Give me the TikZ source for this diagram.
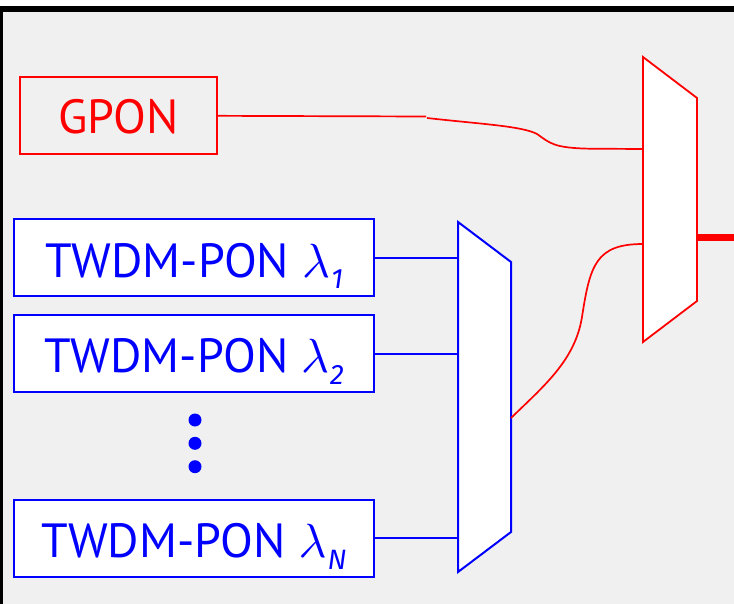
\documentclass[tikz,border=0pt]{standalone}
\usepackage{graphicx}
\usepackage{fontspec}
\setmainfont{PT Sans}
\newfontfamily\lamfont{Fira Sans}
\definecolor{panel}{HTML}{F0F0F0}
\definecolor{pblue}{HTML}{0000FF}
\definecolor{pred}{HTML}{FF0000}
% wavelength label: italic lambda with a lowered italic index
\newcommand{\wl}[1]{\scalebox{4.8}{\fontsize{10}{12}\selectfont$\lambda$}\kern1pt\raisebox{-12pt}{\fontsize{28}{28}\selectfont\lamfont\itshape #1}}
\tikzset{
  twbox/.style={draw=pblue, line width=2pt, fill=white, text=pblue, inner sep=0pt,
    minimum width=360pt, minimum height=77pt, text height=57.5pt, text depth=19.5pt,
    font=\fontsize{48}{48}\selectfont},
  gbox/.style={draw=pred, line width=1.6pt, text=pred, inner sep=0pt,
    minimum width=197pt, minimum height=77pt, text height=56.3pt, text depth=20.7pt,
    font=\fontsize{48}{48}\selectfont},
  bwire/.style={draw=pblue, line width=2pt},
  rwire/.style={draw=pred, line width=1.7pt},
  muxb/.style={draw=pblue, line width=2pt, fill=white, line join=miter},
  muxr/.style={draw=pred, line width=1.8pt, fill=white, line join=miter},
  vdot/.style={circle, fill=pblue, inner sep=0pt, minimum size=13pt},
}
\begin{document}
\begin{tikzpicture}[x=1pt, y=-1pt]
\useasboundingbox (0,0) rectangle (734,604);
\clip (0,0) rectangle (734,604);
% page and framed panel
\fill[white] (0,0) rectangle (734,604);
\filldraw[fill=panel, draw=black, line width=6pt] (0,9) rectangle (760,630);

% sources
\node[gbox] (gpon) at (118.5,115.5) {GPON};
\node[twbox] (tw1) at (194,258) {TWDM-PON \wl{1}};
\node[twbox] (tw2) at (194,353.5) {TWDM-PON \wl{2}};
\node[twbox] (twn) at (194,538) {TWDM-PON \wl{N}};
\node[vdot] (d1) at (195,420) {};
\node[vdot] (d2) at (195,443.3) {};
\node[vdot] (d3) at (195,466.7) {};

% wavelength multiplexer for the TWDM channels
\draw[muxb] (458,222) -- (511,262) -- (511,532) -- (458,572) -- cycle;
\coordinate (bmin) at (458,0);
\coordinate (bmout) at (511,418);

% combiner for GPON and TWDM
\draw[muxr] (643,57) -- (697,98) -- (697,301) -- (643,342) -- cycle;
\coordinate (rmin) at (643,0);
\coordinate (rmtwdm) at (643,244);
\coordinate (rmout) at (697,238);
\coordinate (feeder) at (740,238);

% TWDM channels into the multiplexer
\draw[bwire] (tw1) -- (tw1 -| bmin);
\draw[bwire] (tw2) -- (tw2 -| bmin);
\draw[bwire] (twn) -- (twn -| bmin);

% GPON fibre to the combiner
\coordinate (gbrk) at (426,116.5);
\coordinate (gres) at (427,118);
\coordinate (gend) at (643,149);
\draw[rwire] (gpon) -- (gbrk);
\draw[rwire] (gres) .. controls (480,124) and (522,126) .. (537,134)
  .. controls (550,143) and (553,148) .. (590,148.7) -- (gend);

% multiplexed TWDM fibre to the combiner
\draw[rwire] (bmout) .. controls (545,385) and (575,360) .. (582,317)
  .. controls (590,265) and (596,244) .. (rmtwdm);

% feeder fibre
\draw[pred, line width=7pt] (rmout) -- (feeder);
\end{tikzpicture}
\end{document}
